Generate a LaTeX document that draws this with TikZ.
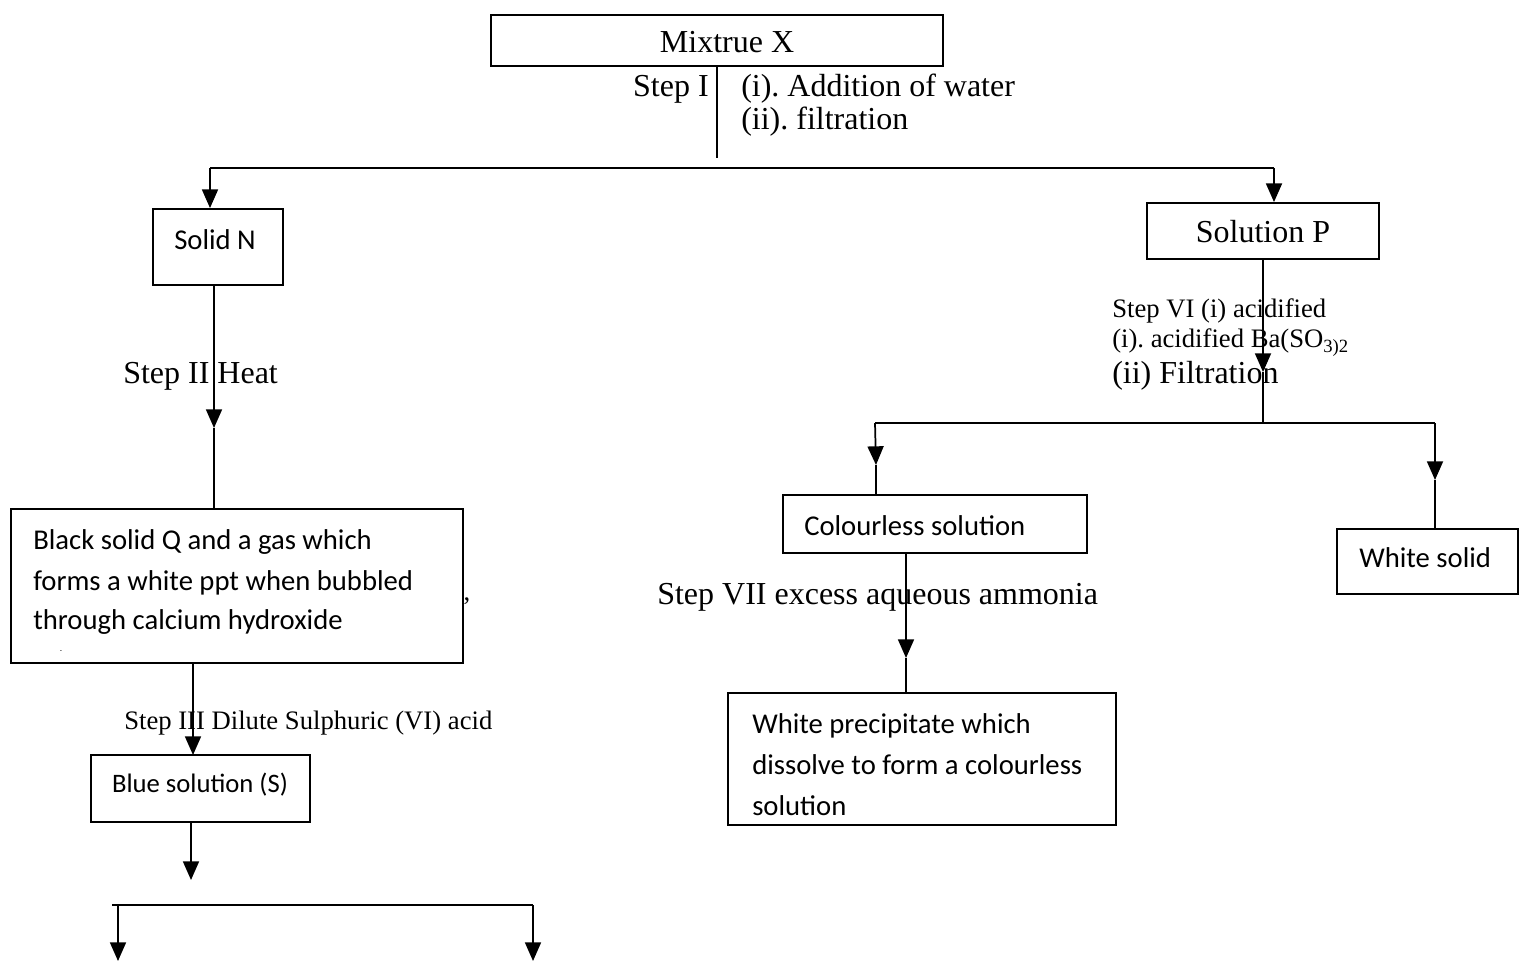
\documentclass[tikz,border=0pt]{standalone}
\usepackage{fontspec}
\setmainfont{Liberation Serif}
\newfontfamily\calib{Carlito}
\usetikzlibrary{arrows.meta}
\frenchspacing
\begin{document}
\begin{tikzpicture}[x=0.75pt,y=-0.75pt,
  box/.style={draw, line width=1.4pt, inner sep=0pt},
  ln/.style={line width=1.3pt},
  arr/.style={line width=1.3pt,-{Triangle[length=14pt,width=12pt]}},
  big/.style={font=\fontsize{24}{28}\selectfont, inner sep=0pt},
  small/.style={font=\fontsize{20}{24}\selectfont, inner sep=0pt},
  cal/.style={font=\calib\fontsize{21.5}{26}\selectfont, inner sep=0pt},
  calS/.style={font=\calib\fontsize{20}{24}\selectfont, inner sep=0pt}]
\useasboundingbox (0,0) rectangle (1519,962);

% boxes
\node[box, minimum width=339pt, minimum height=38.25pt] (mx) at (717,40.5) {};
\node[box, minimum width=97.5pt, minimum height=57pt] (solidN) at (218,247) {};
\node[box, minimum width=174pt, minimum height=42pt] (solP) at (1263,231) {};
\node[box, minimum width=339pt, minimum height=115.5pt] (black) at (237,586) {};
\node[box, minimum width=164.25pt, minimum height=50.25pt] (blue) at (200.5,788.5) {};
\node[box, minimum width=228pt, minimum height=43.5pt] (col) at (935,524) {};
\node[box, minimum width=135.75pt, minimum height=48.75pt] (wsol) at (1427.5,561.5) {};
\node[box, minimum width=291pt, minimum height=99pt] (prec) at (922,759) {};

% texts
\node[big, anchor=base] (mxt) at (727,53) {Mixtrue X};
\node[big, anchor=base east] (s1) at (709,97) {Step I};
\node[big, anchor=base west] (s1a) at (741,97) {(i). Addition of water};
\node[big, anchor=base west] (s1b) at (741,130) {(ii). filtration};
\node[cal, anchor=base] (snt) at (215,250) {Solid N};
\node[big, anchor=base west] (s2) at (123,383) {Step II Heat};
\node[big, anchor=base] (spt) at (1263,243) {Solution P};
\node[small, anchor=base west] (s6a) at (1112,317) {Step VI (i) acidified};
\node[small, anchor=base west] (s6b) at (1112,348) {(i). acidified Ba(SO\textsubscript{3)2}};
\node[big, anchor=base west] (s6c) at (1112,383) {(ii) Filtration};
\node[cal, anchor=base west] (bl1) at (33,549) {Black solid Q and a gas which};
\node[cal, anchor=base west] (bl2) at (33,590) {forms a white ppt when bubbled};
\node[cal, anchor=base west] (bl3) at (33,629) {through calcium hydroxide};
\node[small, anchor=base] (cm) at (467,600) {,};
\node[font=\fontsize{5}{5}\selectfont, inner sep=0pt] (dsh) at (61,652) {-};
\node[small, anchor=base west] (s3) at (124,729) {Step III Dilute Sulphuric (VI) acid};
\node[calS, anchor=base] (bt) at (200,792) {Blue solution (S)};
\node[cal, anchor=base west] (ct) at (804,535) {Colourless solution};
\node[cal, anchor=base west] (wt) at (1359,567) {White solid};
\node[big, anchor=base west] (s7) at (657,604) {Step VII excess aqueous ammonia};
\node[cal, anchor=base west] (p1) at (752,733) {White precipitate which};
\node[cal, anchor=base west] (p2) at (752,774) {dissolve to form a colourless};
\node[cal, anchor=base west] (p3) at (752,815) {solution};

% connectors
\coordinate (j1) at (717,158);
\draw[ln] (mx.south) -- (j1);
\coordinate (hL) at (210,168);
\coordinate (hR) at (1274,168);
\draw[ln] (hL) -- (hR);
\draw[arr] (hL) -- (hL |- solidN.north);
\draw[arr] (hR) -- (hR |- solP.north);

\coordinate (t2) at (214,428);
\draw[arr] (solidN.south -| t2) -- (t2);
\draw[ln] (t2) -- (t2 |- black.north);

\coordinate (t3) at (193,755);
\draw[arr] (black.south -| t3) -- (t3);

\coordinate (t4) at (191,880);
\draw[arr] (blue.south -| t4) -- (t4);
\coordinate (bL) at (112,905);
\coordinate (bR) at (533,905);
\draw[ln] (bL) -- (bR);
\coordinate (bLa) at (118,905);
\coordinate (bLb) at (118,961);
\coordinate (bRb) at (533,961);
\draw[arr] (bLa) -- (bLb);
\draw[arr] (bR) -- (bRb);

\coordinate (t6) at (1263,372);
\coordinate (j6) at (1263,423);
\draw[arr] (solP.south) -- (t6);
\draw[ln] (t6) -- (j6);
\coordinate (pL) at (875,423);
\coordinate (pR) at (1435,423);
\draw[ln] (pL) -- (pR);
\coordinate (t7) at (876,465);
\draw[arr] (pL) -- (t7);
\draw[ln] (t7) -- (t7 |- col.north);
\coordinate (t8) at (1435,480);
\draw[arr] (pR) -- (t8);
\draw[ln] (t8) -- (t8 |- wsol.north);
\coordinate (t9) at (906,658);
\draw[arr] (col.south -| t9) -- (t9);
\draw[ln] (t9) -- (t9 |- prec.north);
\end{tikzpicture}
\end{document}
